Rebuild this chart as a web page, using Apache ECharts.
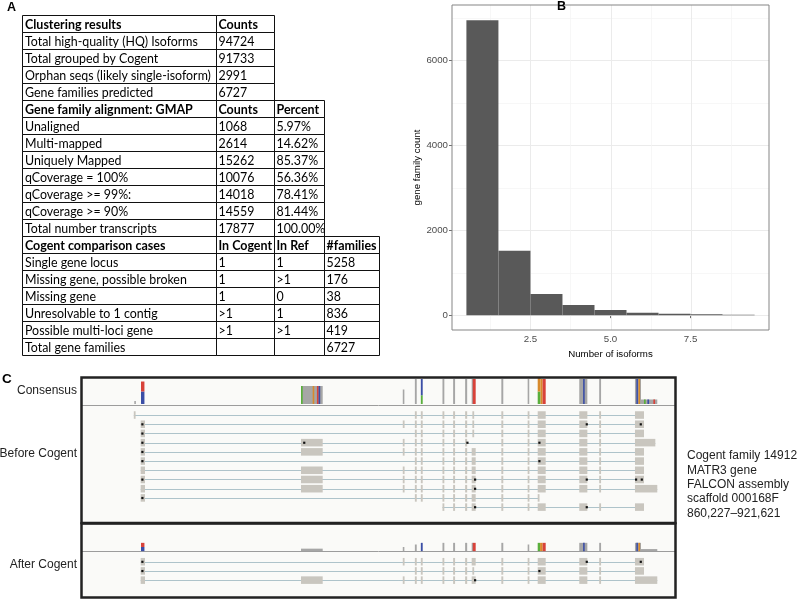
<!DOCTYPE html>
<html><head><meta charset="utf-8">
<script src="https://cdn.jsdelivr.net/npm/echarts@6/dist/echarts.min.js"></script>
<style>html,body{margin:0;padding:0;background:#fff}#c{width:798px;height:599px}</style>
</head><body><div id="c"></div>
<script>
// ---------- Panel A: table data ----------
const clusterHeader = ['Clustering results', 'Counts'];
const clusterRows = [
  ['Total high-quality (HQ) Isoforms', '94724'],
  ['Total grouped by Cogent', '91733'],
  ['Orphan seqs (likely single-isoform)', '2991'],
  ['Gene families predicted', '6727']
];
const gmapHeader = ['Gene family alignment: GMAP', 'Counts', 'Percent'];
const gmapRows = [
  ['Unaligned', '1068', '5.97%'],
  ['Multi-mapped', '2614', '14.62%'],
  ['Uniquely Mapped', '15262', '85.37%'],
  ['qCoverage = 100%', '10076', '56.36%'],
  ['qCoverage >= 99%:', '14018', '78.41%'],
  ['qCoverage >= 90%', '14559', '81.44%'],
  ['Total number transcripts', '17877', '100.00%']
];
const cogentHeader = ['Cogent comparison cases', 'In Cogent', 'In Ref', '#families'];
const cogentRows = [
  ['Single gene locus', '1', '1', '5258'],
  ['Missing gene, possible broken', '1', '>1', '176'],
  ['Missing gene', '1', '0', '38'],
  ['Unresolvable to 1 contig', '>1', '1', '836'],
  ['Possible multi-loci gene', '>1', '>1', '419'],
  ['Total gene families', '', '', '6727']
];

// ---------- Panel B: histogram data ----------
const isoformBins = [1, 2, 3, 4, 5, 6, 7, 8, 9];
const familyCounts = [6940, 1515, 495, 236, 118, 57, 33, 22, 10];
const binWidth = 1;
const yTickValues = [0, 2000, 4000, 6000];
const yTickLabels = ['0', '2000', '4000', '6000'];
const yMinorValues = [1000, 3000, 5000, 7000];
const xTickValues = [2.5, 5.0, 7.5];
const xTickLabels = ['2.5', '5.0', '7.5'];
const xMinorValues = [1.25, 3.75, 6.25, 8.75];

// ---------- Panel C: gene model data (kb on scaffold 000168F) ----------
const exonKb = {
  stub: [860.20, 860.40], first: [861.01, 861.52], ex2: [879.83, 882.38],
  A: [891.78, 891.96], B: [893.20, 893.42], C: [893.90, 894.12], D: [896.44, 896.66],
  E: [897.69, 897.92], F: [899.10, 899.34], G: [899.95, 900.15], Gw: [899.87, 900.34],
  H: [903.35, 903.58], I: [906.44, 906.62], J: [907.62, 908.56], Jt: [907.62, 907.78],
  K: [912.50, 913.45], L: [914.84, 915.06], M: [919.04, 920.10], Ml: [919.04, 921.43], Mx: [919.04, 921.66]
};
const beforeReads = [
  'stub B C D E F G H I J K L M',
  'first A B C D E F G H I J K L M',
  'first B C D E F G H I J K L M',
  'first ex2 A B C D E F H I J K L Ml',
  'first ex2 A B C D E F Gw H I J K L M',
  'first B C D E F Gw H I J K L M',
  'first ex2 A B C D E F Gw H I J K L M',
  'first ex2 A B C D E F Gw H I J K L M',
  'first ex2 A B C D E F Gw H I J K L Mx',
  'first B C D E F Gw H I Jt',
  'D E F Gw H I J K L M'
];
const afterReads = [
  'first A B C D E F Gw H I J K L M',
  'first B C D E F G H I J K L M',
  'first ex2 A B C D E F Gw H I J K L Mx'
];
// mismatch marks: [read index, kb]
const beforeMismatch = [
  [1, 861.2], [2, 861.2], [3, 861.2], [4, 861.2], [5, 861.2], [7, 861.2], [9, 861.2],
  [3, 880.2], [3, 899.36], [3, 907.81], [5, 907.81], [1, 913.37], [1, 919.71],
  [7, 900.26], [8, 900.26], [10, 900.26], [7, 913.37], [10, 913.37], [7, 919.16], [7, 919.83]
];
const afterMismatch = [[0, 861.2], [1, 861.2], [0, 913.37], [0, 919.71], [1, 907.81], [2, 900.26]];
// consensus coverage: [startKb, endKb, fromFraction, toFraction, base ('' = matched)]
const beforeCoverage = [
  [860.26, 860.42, 0, 0.12, ''],
  [861.05, 861.45, 0, 0.5, 'C'], [861.05, 861.45, 0.5, 0.9, 'T'],
  [879.83, 882.38, 0, 0.72, ''], [879.83, 880.03, 0, 0.72, 'A'], [881.2, 881.38, 0, 0.72, 'G'],
  [881.7, 881.9, 0, 0.72, 'T'], [881.9, 882.05, 0, 0.72, 'C'],
  [891.78, 891.96, 0, 0.58, ''],
  [893.20, 893.42, 0, 1, ''],
  [893.90, 894.12, 0, 0.35, 'A'], [893.90, 894.12, 0.35, 1, 'C'],
  [896.44, 896.66, 0, 1, ''], [897.69, 897.92, 0, 1, ''], [899.10, 899.34, 0, 1, ''],
  [899.87, 900.0, 0, 1, ''], [900.0, 900.34, 0, 1, 'T'],
  [903.35, 903.58, 0, 1, ''], [906.44, 906.62, 0, 1, ''],
  [907.62, 907.95, 0, 0.5, 'A'], [907.62, 907.95, 0.5, 1.04, 'G'], [907.95, 908.2, 0, 1, 'G'], [908.2, 908.56, 0, 1, 'T'],
  [912.50, 913.45, 0, 1, ''], [912.95, 913.1, 0, 1, 'C'],
  [914.84, 915.06, 0, 1, ''],
  [919.04, 919.75, 0, 1, ''], [919.2, 919.35, 0, 1, 'C'], [919.45, 919.55, 0, 1, 'G'],
  [919.75, 921.66, 0, 0.18, ''], [920.1, 920.3, 0, 0.18, 'A'], [920.5, 920.7, 0, 0.18, 'C'], [921.2, 921.4, 0, 0.18, 'T']
];
const afterCoverage = [
  [861.05, 861.45, 0, 0.5, 'C'], [861.05, 861.45, 0.5, 1, 'T'],
  [879.83, 882.38, 0, 0.3, ''],
  [891.78, 891.96, 0, 0.5, ''], [893.20, 893.42, 0, 0.8, ''], [893.90, 894.12, 0, 1, 'C'],
  [896.44, 896.66, 0, 1, ''], [897.69, 897.92, 0, 1, ''], [899.10, 899.34, 0, 1, ''],
  [899.87, 900.0, 0, 1, ''], [900.0, 900.34, 0, 1, 'T'],
  [903.35, 903.58, 0, 1, ''], [906.44, 906.62, 0, 0.8, ''],
  [907.62, 907.9, 0, 1, 'A'], [907.9, 908.2, 0, 1, 'G'], [908.2, 908.56, 0, 1, 'T'],
  [912.50, 913.45, 0, 1, ''], [912.95, 913.1, 0, 1, 'C'],
  [914.84, 915.06, 0, 1, ''],
  [919.04, 919.75, 0, 1, ''], [919.2, 919.35, 0, 1, 'C'], [919.45, 919.55, 0, 1, 'G'],
  [919.75, 921.66, 0, 0.25, '']
];
const panelCLeftLabels = ['Consensus', 'Before Cogent', 'After Cogent'];
const panelCRightLabels = ['Cogent family 14912', 'MATR3 gene', 'FALCON assembly', 'scaffold 000168F', '860,227\u2013921,621'];

// ---------- layout / style ----------
const baseColor = { A: '#5aaf3c', C: '#3b4ea6', G: '#d88a2c', T: '#d8423a', '': '#a6a6a6' };
const lanes = { beforeRead0: 4.13, afterRead0: 20.06 };
const covTracks = [{ base: 2.93, full: 2.71 }, { base: 18.91, full: 0.9 }];
const sansFont = '"Liberation Sans", Arial, sans-serif';

// table font fitted to the reference widths
const mctx = document.createElement('canvas').getContext('2d');
function fitSize(text, weight, target) {
  mctx.font = weight + ' 20px Lato';
  return 20 * target / mctx.measureText(text).width;
}
const bodySize = fitSize('Orphan seqs (likely single-isoform)', 'normal', 186);
const headSize = fitSize('Gene family alignment: GMAP', 'bold', 168);

const graphics = [];
// ----- table -----
const TABLE = { top: 14.5, rowH: 17, cols: [22, 216, 274, 324, 379] };
let rowIdx = 0;
[[clusterHeader, clusterRows], [gmapHeader, gmapRows], [cogentHeader, cogentRows]].forEach(([hdr, rows]) => {
  [hdr].concat(rows).forEach((cells, k) => {
    const y0 = Math.round(TABLE.top + rowIdx * TABLE.rowH);
    const y1 = Math.round(TABLE.top + (rowIdx + 1) * TABLE.rowH);
    cells.forEach((txt, c) => {
      const x0 = TABLE.cols[c], x1 = TABLE.cols[c + 1];
      graphics.push({ type: 'rect', z: 10, silent: true,
        shape: { x: x0 + 0.5, y: y0 + 0.5, width: x1 - x0, height: y1 - y0 },
        style: { fill: 'none', stroke: '#111', lineWidth: 1 } });
      if (txt) {
        const bold = k === 0;
        graphics.push({ type: 'text', z: 11, silent: true,
          x: x0 + (c === 0 ? 3 : 2.5), y: (y0 + y1) / 2 + 1,
          style: { text: txt, fill: '#000',
            font: (bold ? 'bold ' : '') + (bold ? headSize : bodySize).toFixed(2) + 'px Lato',
            verticalAlign: 'middle', textVerticalAlign: 'middle', align: 'left', textAlign: 'left' } });
      }
    });
    rowIdx++;
  });
});
// panel letters
[['A', 7, 1, 12.5], ['B', 557, 0, 12.5], ['C', 2, 372, 13.5]].forEach(([t, x, y, s]) => {
  graphics.push({ type: 'text', x: x, y: y, z: 20, silent: true,
    style: { text: t, font: 'bold ' + s + 'px ' + sansFont, fill: '#000', verticalAlign: 'top', textVerticalAlign: 'top' } });
});
// panel C frame
graphics.push({ type: 'rect', z: -1, silent: true, shape: { x: 82, y: 378, width: 593, height: 220 }, style: { fill: '#fafaf8' } });
graphics.push({ type: 'line', z: 1, silent: true, shape: { x1: 82, y1: 405.5, x2: 675, y2: 405.5 }, style: { stroke: '#9c9c9c', lineWidth: 1 } });
graphics.push({ type: 'line', z: 1, silent: true, shape: { x1: 82, y1: 551.5, x2: 675, y2: 551.5 }, style: { stroke: '#9c9c9c', lineWidth: 1 } });
graphics.push({ type: 'rect', z: 30, silent: true, shape: { x: 81.5, y: 377.5, width: 594, height: 145.5 }, style: { fill: 'none', stroke: '#222', lineWidth: 2.5 } });
graphics.push({ type: 'rect', z: 30, silent: true, shape: { x: 81.5, y: 523.5, width: 594, height: 74 }, style: { fill: 'none', stroke: '#222', lineWidth: 2.5 } });
// panel C labels
[391, 453.5, 564.5].forEach((y, i) => {
  graphics.push({ type: 'text', x: 77, y: y, z: 20, silent: true,
    style: { text: panelCLeftLabels[i], font: '12px ' + sansFont, fill: '#222', align: 'right', textAlign: 'right', verticalAlign: 'middle', textVerticalAlign: 'middle' } });
});
panelCRightLabels.forEach((t, i) => {
  graphics.push({ type: 'text', x: 687, y: 456 + i * 14.3, z: 20, silent: true,
    style: { text: t, font: '12px ' + sansFont, fill: '#222', align: 'left', textAlign: 'left', verticalAlign: 'middle', textVerticalAlign: 'middle' } });
});

// ----- build panel C series data from the read definitions -----
function readData(reads, lane0) {
  const exons = [], introns = [];
  reads.forEach((def, i) => {
    const names = def.split(' ');
    const lane = lane0 + i;
    let lo = Infinity, hi = -Infinity;
    names.forEach(n => { const e = exonKb[n]; exons.push([e[0], e[1], lane]); lo = Math.min(lo, e[0]); hi = Math.max(hi, e[1]); });
    introns.push([lo, hi, lane]);
  });
  return { exons, introns };
}
const bR = readData(beforeReads, lanes.beforeRead0);
const aR = readData(afterReads, lanes.afterRead0);
const exonData = bR.exons.concat(aR.exons);
const intronData = bR.introns.concat(aR.introns);
const dotData = beforeMismatch.map(d => [d[1], lanes.beforeRead0 + d[0]])
  .concat(afterMismatch.map(d => [d[1], lanes.afterRead0 + d[0]]));
const covData = beforeCoverage.map(d => d.concat([0])).concat(afterCoverage.map(d => d.concat([1])));

const grid1Lines = [];
yTickValues.forEach(v => grid1Lines.push([0, v, 1]));
yMinorValues.forEach(v => grid1Lines.push([0, v, 0]));
xTickValues.forEach(v => grid1Lines.push([1, v, 1]));
xMinorValues.forEach(v => grid1Lines.push([1, v, 0]));

const option = {
  animation: false,
  backgroundColor: '#ffffff',
  graphic: { elements: graphics },
  grid: [
    { left: 452, top: 5, width: 317, height: 325, show: true, borderColor: '#858585', borderWidth: 1, backgroundColor: 'transparent', z: 5 },
    { left: 82, top: 377, width: 593, height: 221, show: false }
  ],
  xAxis: [
    { gridIndex: 0, type: 'value', min: 0.05, max: 9.95,
      axisLine: { show: false },
      axisTick: { show: true, customValues: xTickValues, length: 3, lineStyle: { color: '#6f6f6f' } },
      axisLabel: { customValues: xTickValues, color: '#4d4d4d', fontSize: 9.7, margin: 4, fontFamily: sansFont,
        formatter: v => { const i = xTickValues.indexOf(v); return i >= 0 ? xTickLabels[i] : v.toFixed(1); } },
      splitLine: { show: false },
      name: 'Number of isoforms', nameLocation: 'middle', nameGap: 16,
      nameTextStyle: { color: '#000', fontSize: 9.7, fontFamily: sansFont } },
    { gridIndex: 1, type: 'value', min: 854.12, max: 923.74, show: false }
  ],
  yAxis: [
    { gridIndex: 0, type: 'value', min: -350, max: 7300,
      axisLine: { show: false },
      axisTick: { show: true, customValues: yTickValues, length: 3, lineStyle: { color: '#6f6f6f' } },
      axisLabel: { customValues: yTickValues, color: '#4d4d4d', fontSize: 9.7, margin: 4, fontFamily: sansFont,
        formatter: v => { const i = yTickValues.indexOf(v); return i >= 0 ? yTickLabels[i] : String(v); } },
      splitLine: { show: false },
      name: 'gene family count', nameLocation: 'middle', nameGap: 22,
      nameTextStyle: { color: '#000', fontSize: 9.7, fontFamily: sansFont } },
    { gridIndex: 1, type: 'value', min: 0, max: 24, inverse: true, show: false }
  ],
  series: [
    { type: 'custom', xAxisIndex: 0, yAxisIndex: 0, z: 1, silent: true, data: grid1Lines,
      renderItem(params, api) {
        const cs = params.coordSys;
        const horiz = api.value(0) === 0, v = api.value(1), major = api.value(2) === 1;
        const style = { stroke: major ? '#ebebeb' : '#f4f4f4', lineWidth: major ? 1 : 0.7 };
        if (horiz) {
          const y = Math.round(api.coord([1, v])[1]) + 0.5;
          return { type: 'line', shape: { x1: cs.x, y1: y, x2: cs.x + cs.width, y2: y }, style };
        }
        const x = Math.round(api.coord([v, 0])[0]) + 0.5;
        return { type: 'line', shape: { x1: x, y1: cs.y, x2: x, y2: cs.y + cs.height }, style };
      } },
    { type: 'custom', xAxisIndex: 0, yAxisIndex: 0, z: 3, silent: true,
      data: isoformBins.map((b, i) => [b, familyCounts[i]]),
      renderItem(params, api) {
        const c = api.value(0), v = api.value(1);
        const p0 = api.coord([c - binWidth / 2, 0]), p1 = api.coord([c + binWidth / 2, v]);
        return { type: 'rect', shape: { x: p0[0], y: p1[1], width: p1[0] - p0[0], height: p0[1] - p1[1] },
          style: { fill: '#595959' } };
      } },
    // introns
    { type: 'custom', xAxisIndex: 1, yAxisIndex: 1, z: 2, silent: true, data: intronData,
      renderItem(params, api) {
        const p0 = api.coord([api.value(0), api.value(2)]), p1 = api.coord([api.value(1), api.value(2)]);
        const y = Math.round(p0[1]) + 0.5;
        return { type: 'line', shape: { x1: p0[0], y1: y, x2: p1[0], y2: y }, style: { stroke: '#aec3ca', lineWidth: 1 } };
      } },
    // exons
    { type: 'custom', xAxisIndex: 1, yAxisIndex: 1, z: 3, silent: true, data: exonData,
      renderItem(params, api) {
        const lane = api.value(2);
        const p0 = api.coord([api.value(0), lane - 0.41]), p1 = api.coord([api.value(1), lane + 0.41]);
        return { type: 'rect', shape: { x: p0[0], y: Math.min(p0[1], p1[1]), width: Math.max(p1[0] - p0[0], 1.8), height: Math.abs(p1[1] - p0[1]) },
          style: { fill: '#c9c6bf' } };
      } },
    // mismatch marks
    { type: 'custom', xAxisIndex: 1, yAxisIndex: 1, z: 4, silent: true, data: dotData,
      renderItem(params, api) {
        const p = api.coord([api.value(0), api.value(1)]);
        return { type: 'rect', shape: { x: p[0] - 1, y: p[1] - 1, width: 2.2, height: 2.2 }, style: { fill: '#111' } };
      } },
    // consensus coverage
    { type: 'custom', xAxisIndex: 1, yAxisIndex: 1, z: 3, silent: true, data: covData,
      dimensions: ['s', 'e', 'f0', 'f1', 'base', 'track'],
      renderItem(params, api) {
        const item = covData[params.dataIndex];
        const tr = covTracks[item[5]];
        const p0 = api.coord([item[0], tr.base - item[2] * tr.full]);
        const p1 = api.coord([item[1], tr.base - item[3] * tr.full]);
        return { type: 'rect', shape: { x: p0[0], y: Math.min(p0[1], p1[1]), width: Math.max(p1[0] - p0[0], 1.6), height: Math.abs(p1[1] - p0[1]) },
          style: { fill: baseColor[item[4]] } };
      } }
  ]
};
const chart = echarts.init(document.getElementById('c'));
chart.setOption(option);
</script>
</body></html>
